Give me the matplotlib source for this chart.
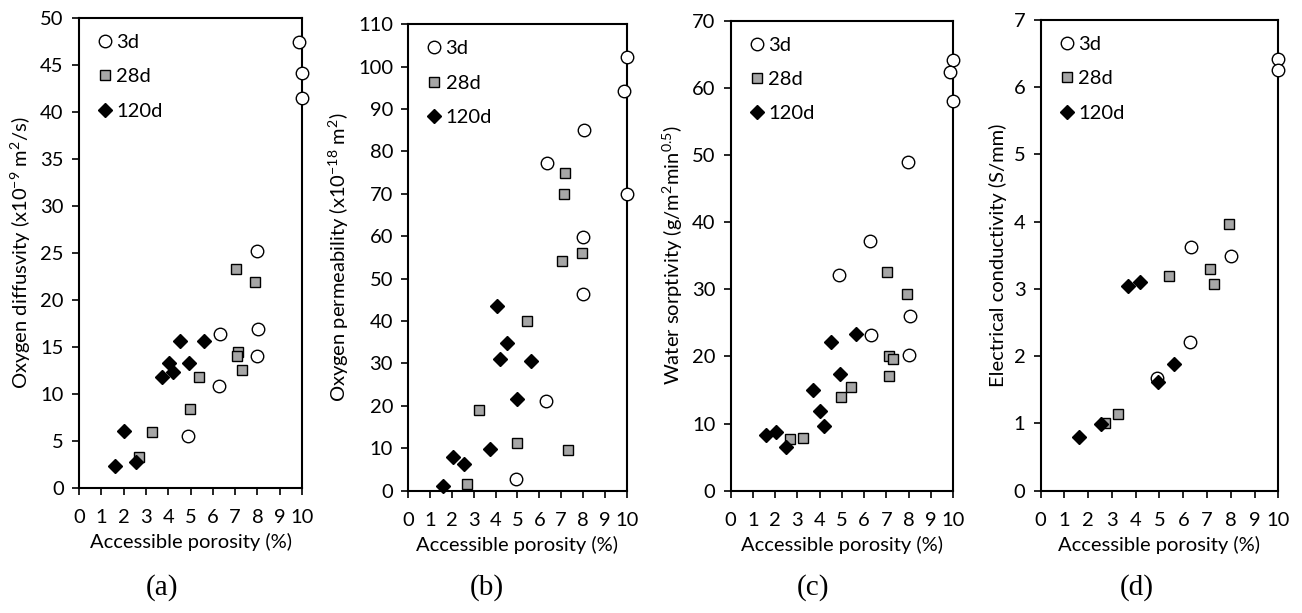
import matplotlib
matplotlib.use("Agg")
import matplotlib.pyplot as plt

plt.rcParams['font.family'] = ['Lato', 'DejaVu Sans']
plt.rcParams['mathtext.fontset'] = 'custom'
plt.rcParams['mathtext.rm'] = 'Lato'
plt.rcParams['mathtext.it'] = 'Lato:italic'
plt.rcParams['font.size'] = 14

# (a) oxygen diffusivity
a_3d_x = [9.88, 10.0, 10.0, 7.97, 6.32, 8.04, 8.0, 6.28, 4.87]
a_3d_y = [47.4, 44.2, 41.5, 25.2, 16.4, 16.9, 14.0, 10.8, 5.5]
a_28d_x = [7.03, 7.9, 7.14, 7.1, 7.32, 5.4, 4.96, 3.26, 2.69]
a_28d_y = [23.3, 21.9, 14.5, 14.0, 12.6, 11.8, 8.4, 6.0, 3.3]
a_120d_x = [4.53, 5.62, 4.05, 4.93, 3.71, 4.22, 2.03, 2.54, 1.6]
a_120d_y = [15.6, 15.6, 13.3, 13.3, 11.85, 12.3, 6.1, 2.8, 2.37]

# (b) oxygen permeability
b_3d_x = [10.0, 9.89, 10.0, 8.06, 6.34, 8.0, 8.01, 6.31, 4.92]
b_3d_y = [102.2, 94.3, 70.0, 85.0, 77.2, 59.9, 46.5, 21.2, 2.8]
b_28d_x = [7.17, 7.14, 7.02, 7.94, 5.42, 3.25, 4.99, 7.3, 2.67]
b_28d_y = [75.0, 70.0, 54.2, 56.1, 40.1, 19.0, 11.3, 9.6, 1.65]
b_120d_x = [4.07, 4.52, 4.2, 5.63, 4.96, 3.73, 2.06, 2.55, 1.59]
b_120d_y = [43.6, 34.9, 31.1, 30.7, 21.6, 9.8, 8.0, 6.3, 1.2]

# (c) water sorptivity
c_3d_x = [10.0, 9.87, 9.99, 7.99, 6.27, 4.87, 6.31, 8.05, 8.03]
c_3d_y = [64.1, 62.4, 58.1, 48.9, 37.2, 32.1, 23.2, 26.0, 20.2]
c_28d_x = [7.02, 7.92, 7.12, 7.29, 7.11, 5.41, 4.96, 3.25, 2.67]
c_28d_y = [32.5, 29.3, 20.1, 19.6, 17.1, 15.5, 13.9, 7.8, 7.7]
c_120d_x = [5.65, 4.5, 4.92, 3.69, 4.02, 4.2, 1.59, 2.03, 2.49]
c_120d_y = [23.3, 22.2, 17.4, 15.0, 11.8, 9.7, 8.3, 8.7, 6.55]

# (d) electrical conductivity
d_3d_x = [10.0, 9.99, 6.31, 8.02, 6.3, 4.88]
d_3d_y = [6.42, 6.25, 3.62, 3.49, 2.21, 1.67]
d_28d_x = [7.93, 5.4, 7.13, 7.29, 3.24, 2.69]
d_28d_y = [3.96, 3.2, 3.29, 3.08, 1.14, 1.01]
d_120d_x = [3.67, 4.19, 5.62, 4.94, 2.54, 1.61]
d_120d_y = [3.05, 3.10, 1.89, 1.61, 0.99, 0.80]

panels = [
    ((a_3d_x, a_3d_y), (a_28d_x, a_28d_y), (a_120d_x, a_120d_y),
     'Oxygen diffusvity (x10$^{-9}$ m$^{2}$/s)', 50, 5, '(a)'),
    ((b_3d_x, b_3d_y), (b_28d_x, b_28d_y), (b_120d_x, b_120d_y),
     'Oxygen permeability (x10$^{-18}$ m$^{2}$)', 110, 10, '(b)'),
    ((c_3d_x, c_3d_y), (c_28d_x, c_28d_y), (c_120d_x, c_120d_y),
     'Water sorptivity (g/m$^{2}$min$^{0.5}$)', 70, 10, '(c)'),
    ((d_3d_x, d_3d_y), (d_28d_x, d_28d_y), (d_120d_x, d_120d_y),
     'Electrical conductivity (S/mm)', 7, 1, '(d)'),
]

# axes boxes in figure fraction [left, bottom, width, height]
boxes = [
    [0.0607, 0.2039, 0.1713, 0.7667],
    [0.3136, 0.1995, 0.1677, 0.7609],
    [0.5612, 0.1995, 0.1708, 0.7667],
    [0.7993, 0.1995, 0.1825, 0.7679],
]
caption_x = [162, 487, 813, 1137]

fig = plt.figure(figsize=(13.02, 6.13), dpi=100)

for (s3, s28, s120, ylab, ymax, ystep, cap), box, cx in zip(panels, boxes, caption_x):
    ax = fig.add_axes(box)
    ax.plot(s3[0], s3[1], 'o', ms=9, mfc='white', mec='black', mew=1.0,
            label='3d', clip_on=False, zorder=3)
    ax.plot(s28[0], s28[1], 's', ms=7, mfc='#a6a6a6', mec='black', mew=1.0,
            label='28d', clip_on=False, zorder=3)
    ax.plot(s120[0], s120[1], 'D', ms=7, mfc='black', mec='black', mew=1.0,
            label='120d', clip_on=False, zorder=4)
    ax.set_xlim(0, 10)
    ax.set_ylim(0, ymax)
    ax.set_xticks(range(0, 11))
    ax.set_yticks(range(0, ymax + 1, ystep))
    ax.tick_params(direction='out', length=5, width=1.2, labelsize=14.5)
    ax.tick_params(axis='y', pad=6)
    ax.tick_params(axis='x', pad=10)
    for sp in ax.spines.values():
        sp.set_linewidth(1.5)
    ax.set_xlabel('Accessible porosity (%)', fontsize=14.5, labelpad=5)
    ax.set_ylabel(ylab, fontsize=14.5, labelpad=5)
    ax.legend(loc='upper left', frameon=False, fontsize=14.5,
              handletextpad=0.05, labelspacing=0.85, borderaxespad=0.4,
              handlelength=1.0)
    fig.text(cx / 1302, 1 - 588 / 613, cap, ha='center', va='center',
             fontsize=21, family='Liberation Serif')

fig.savefig('out.png', dpi=100)
